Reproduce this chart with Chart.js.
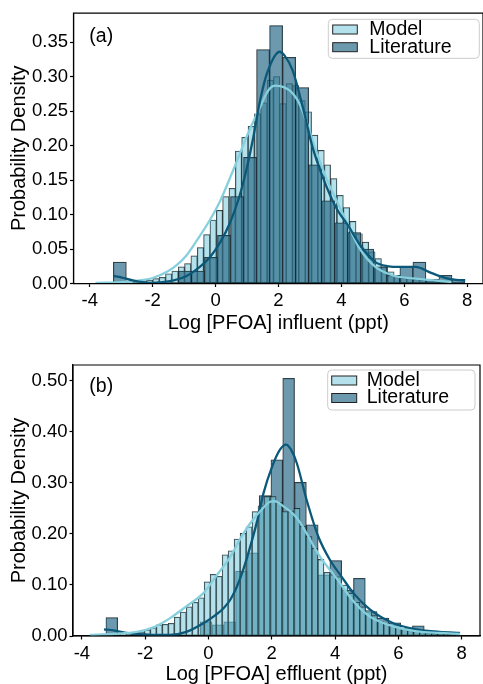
<!DOCTYPE html>
<html><head><meta charset="utf-8">
<script src="https://cdn.jsdelivr.net/npm/chart.js@4.4.1/dist/chart.umd.min.js"></script>
<style>
html,body{margin:0;padding:0;background:#fff;}
canvas{display:block;}
</style></head><body>
<canvas id="cA" width="483" height="342"></canvas>
<canvas id="cB" width="483" height="342"></canvas>
<script>
const FONT = "'Liberation Sans', Arial, Helvetica, sans-serif";

// ---------- shared tick values ----------
const xTickValues = [-4, -2, 0, 2, 4, 6, 8];
const yTickValuesA = [0, 0.05, 0.10, 0.15, 0.20, 0.25, 0.30, 0.35];
const yTickValuesB = [0, 0.10, 0.20, 0.30, 0.40, 0.50];
const seriesLabels = ['Model', 'Literature'];

// ---------- panel (a): influent ----------
const modelBinStartA = -3.81, modelBinWidthA = 0.2018;
const modelDensityA = [0.001,0.001,0.001,0.002,0.002,0.002,0.003,0.004,0.005,0.007,
  0.009,0.014,0.018,0.024,0.029,0.040,0.052,0.071,0.092,0.106,
  0.126,0.138,0.192,0.212,0.228,0.246,0.262,0.295,0.300,0.261,
  0.290,0.287,0.265,0.249,0.215,0.193,0.172,0.152,0.128,0.110,
  0.090,0.072,0.060,0.046,0.036,0.024,0.017,0.012,0.008,0.007,
  0.006,0.005,0.004,0.003,0.003,0.002];
const litBinStartA = -3.25, litBinWidthA = 0.414;
const litDensityA = [0.031,0,0,0,0,0.018,0.018,0.038,0.070,0.126,
  0.183,0.339,0.374,0.328,0.284,0.172,0.120,0.088,0.074,0.050,
  0.024,0.012,0.024,0.031,0.006,0.012,0.006];
const modelKdeXA = [-3.81,-3.0,-2.5,-2.0,-1.5,-1.2,-0.92,-0.6,-0.18,0.15,0.45,0.7,0.98,1.2,1.4,1.6,1.75,1.9,2.05,2.2,2.35,2.5,2.65,2.87,3.19,3.5,3.92,4.24,4.56,5.08,5.61,6.35,7.08,7.5];
const modelKdeYA = [0.001,0.002,0.004,0.008,0.018,0.028,0.041,0.062,0.092,0.120,0.152,0.180,0.212,0.235,0.254,0.274,0.284,0.287,0.286,0.284,0.280,0.273,0.262,0.237,0.193,0.155,0.113,0.082,0.052,0.024,0.012,0.007,0.004,0.002];
const litKdeXA = [-3.25,-3.0,-2.6,-2.07,-1.5,-0.92,-0.5,-0.18,0.15,0.45,0.75,0.98,1.2,1.4,1.6,1.75,1.9,2.03,2.2,2.45,2.77,3.08,3.4,3.82,4.24,4.56,5.08,5.5,5.82,6.35,6.87,7.4,7.93];
const litKdeYA = [0.011,0.009,0.004,0.001,0.003,0.011,0.024,0.038,0.060,0.087,0.125,0.165,0.212,0.262,0.300,0.318,0.331,0.336,0.330,0.309,0.256,0.198,0.155,0.111,0.082,0.058,0.031,0.025,0.024,0.024,0.015,0.007,0.004];

// ---------- panel (b): effluent ----------
const modelBinStartB = -3.73, modelBinWidthB = 0.1892;
const modelDensityB = [0.001,0.001,0.002,0.002,0.003,0.003,0.004,0.005,0.008,0.012,
  0.016,0.022,0.023,0.025,0.037,0.047,0.057,0.066,0.075,0.106,
  0.121,0.117,0.159,0.167,0.190,0.201,0.214,0.244,0.255,0.273,
  0.273,0.262,0.244,0.244,0.250,0.215,0.195,0.172,0.150,0.125,
  0.120,0.116,0.100,0.084,0.066,0.057,0.050,0.040,0.028,0.025,
  0.020,0.016,0.013,0.011,0.009,0.007,0.006,0.005,0.004,0.003,
  0.003,0.002];
const litBinStartB = -3.24, litBinWidthB = 0.3725;
const litDensityB = [0.036,0,0,0,0,0,0,0,0.028,0.022,
  0.028,0.127,0.163,0.275,0.345,0.505,0.301,0.218,0.120,0.148,
  0.090,0.113,0.048,0.035,0.026,0.015,0.020,0.008,0.007,0.007];
const modelKdeXB = [-3.74,-3.0,-2.26,-1.7,-1.21,-0.7,-0.16,0.25,0.69,1.0,1.32,1.63,1.95,2.1,2.37,2.68,2.9,3.1,3.53,4.05,4.58,5.1,5.84,6.58,7.3,7.95];
const modelKdeYB = [0.002,0.004,0.008,0.018,0.035,0.058,0.084,0.118,0.155,0.190,0.221,0.244,0.263,0.264,0.254,0.239,0.222,0.201,0.155,0.113,0.068,0.038,0.019,0.009,0.006,0.004];
const litKdeXB = [-3.3,-3.0,-2.6,-2.26,-1.7,-1.21,-0.7,-0.16,0.2,0.47,0.7,0.9,1.1,1.32,1.55,1.74,2.0,2.26,2.45,2.6,2.79,3.1,3.47,3.84,4.21,4.58,5.1,5.84,6.58,7.3,7.95];
const litKdeYB = [0.013,0.011,0.006,0.004,0.002,0.002,0.008,0.025,0.040,0.054,0.072,0.097,0.130,0.175,0.228,0.280,0.330,0.365,0.375,0.366,0.339,0.267,0.195,0.149,0.116,0.084,0.052,0.025,0.013,0.008,0.006];

// ---------- styles ----------
const modelFill = 'rgba(118,201,219,0.55)';
const litFill = 'rgba(45,109,138,0.7)';
const modelLine = '#86d0de';
const litLine = '#0b5878';
const edge = 'rgba(10,10,10,0.85)';

Chart.defaults.font.family = FONT;
Chart.defaults.color = '#000';

function binPoints(start, width, dens) { return dens.map((d, i) => ({x: start + (i + 0.5) * width, y: d})); }
function curve(xs, ys) { return xs.map((x, i) => ({x: x, y: ys[i]})); }

const deco = {
  id: 'deco',
  afterDatasetsDraw(chart, args, o) {
    const ctx = chart.ctx, a = chart.chartArea;
    ctx.save();
    ctx.strokeStyle = '#000'; ctx.lineWidth = 1.2;
    ctx.beginPath(); ctx.rect(a.left, a.top, a.right - a.left, a.bottom - a.top); ctx.stroke();
    ctx.fillStyle = '#000'; ctx.font = '19.5px ' + FONT;
    ctx.textAlign = 'left'; ctx.textBaseline = 'middle';
    ctx.fillText(o.label, o.labelX, o.labelY);
    // legend
    const L = o.legend;
    const r = 4;
    ctx.beginPath();
    ctx.moveTo(L.x + r, L.y);
    ctx.arcTo(L.x + L.w, L.y, L.x + L.w, L.y + L.h, r);
    ctx.arcTo(L.x + L.w, L.y + L.h, L.x, L.y + L.h, r);
    ctx.arcTo(L.x, L.y + L.h, L.x, L.y, r);
    ctx.arcTo(L.x, L.y, L.x + L.w, L.y, r);
    ctx.closePath();
    ctx.fillStyle = 'rgba(255,255,255,0.8)'; ctx.fill();
    ctx.strokeStyle = '#cccccc'; ctx.lineWidth = 1; ctx.stroke();
    const fills = [modelFill, litFill];
    for (let i = 0; i < 2; i++) {
      const py = L.rows[i];
      ctx.fillStyle = '#fff'; ctx.fillRect(L.px, py - L.ph / 2, L.pw, L.ph);
      ctx.fillStyle = fills[i]; ctx.fillRect(L.px, py - L.ph / 2, L.pw, L.ph);
      ctx.strokeStyle = '#222'; ctx.lineWidth = 1;
      ctx.strokeRect(L.px, py - L.ph / 2, L.pw, L.ph);
      ctx.fillStyle = '#000'; ctx.font = '19.5px ' + FONT;
      ctx.fillText(seriesLabels[i], L.tx, py);
    }
    ctx.restore();
  }
};

function barDs(label, data, axis, fill, order) {
  return {type: 'bar', label, data, xAxisID: axis, yAxisID: 'y', backgroundColor: fill,
    borderColor: edge, borderWidth: 0.6, borderSkipped: false, barPercentage: 1,
    categoryPercentage: 1, grouped: false, order};
}
function lineDs(label, data, color, order) {
  return {type: 'line', label, data, xAxisID: 'x', yAxisID: 'y', borderColor: color,
    borderWidth: 2.3, pointRadius: 0, fill: false, cubicInterpolationMode: 'monotone', order};
}

function makeChart(id, cfg) {
  const gridOpt = {drawOnChartArea: false, drawTicks: true, tickLength: 3.5, tickColor: '#000', tickWidth: 1.2, offset: false};
  return new Chart(document.getElementById(id), {
    type: 'bar',
    data: {datasets: cfg.datasets},
    options: {
      responsive: false, animation: false, devicePixelRatio: 1,
      layout: {padding: cfg.padding},
      plugins: {legend: {display: false}, tooltip: {enabled: false}, deco: cfg.deco},
      scales: {
        x: {type: 'linear', min: cfg.xMin, max: cfg.xMax, offset: false,
          afterBuildTicks: s => { s.ticks = xTickValues.map(v => ({value: v})); },
          afterFit: s => { s.height = cfg.xHeight; },
          grid: gridOpt, border: {display: true, color: '#000', width: 1.2},
          ticks: {font: {size: 18.5}, color: '#000', padding: 3.2, maxRotation: 0, autoSkip: false, callback: v => String(v)},
          title: {display: true, text: cfg.xTitle, color: '#000', font: {size: 20, lineHeight: 1}, padding: {top: 0, bottom: cfg.titlePad}}},
        xL: {type: 'linear', display: false, min: cfg.xMin, max: cfg.xMax, offset: false},
        y: {type: 'linear', min: 0, max: cfg.yMax,
          afterBuildTicks: s => { s.ticks = cfg.yTicks.map(v => ({value: v})); },
          afterFit: s => { s.width = cfg.yWidth; },
          grid: gridOpt, border: {display: true, color: '#000', width: 1.2},
          ticks: {font: {size: 18.5}, color: '#000', padding: 2, callback: v => Number(v).toFixed(2)},
          title: {display: true, text: 'Probability Density', color: '#000', font: {size: 20, lineHeight: 1}, padding: {top: 9, bottom: 0}}}
      }
    },
    plugins: [deco]
  });
}

// Panel (a): Literature drawn above Model
makeChart('cA', {
  datasets: [
    lineDs('Literature KDE', curve(litKdeXA, litKdeYA), litLine, 0),
    lineDs('Model KDE', curve(modelKdeXA, modelKdeYA), modelLine, 1),
    barDs(seriesLabels[1], binPoints(litBinStartA, litBinWidthA, litDensityA), 'xL', litFill, 2),
    barDs(seriesLabels[0], binPoints(modelBinStartA, modelBinWidthA, modelDensityA), 'x', modelFill, 3)
  ],
  padding: {top: 13, right: -2, bottom: 0, left: 0},
  xMin: -4.515, xMax: 8.5, yMax: 0.392, yTicks: yTickValuesA,
  xHeight: 58.5, yWidth: 73.5, titlePad: 8.7,
  xTitle: 'Log [PFOA] influent (ppt)',
  deco: {label: '(a)', labelX: 89.3, labelY: 36.7,
    legend: {x: 328.3, y: 19.3, w: 151, h: 39, px: 332.7, pw: 24.6, ph: 9, rows: [29.5, 47.2], tx: 369.3}}
});

// Panel (b): Model drawn above Literature
makeChart('cB', {
  datasets: [
    lineDs('Model KDE', curve(modelKdeXB, modelKdeYB), modelLine, 0),
    lineDs('Literature KDE', curve(litKdeXB, litKdeYB), litLine, 1),
    barDs(seriesLabels[0], binPoints(modelBinStartB, modelBinWidthB, modelDensityB), 'x', modelFill, 2),
    barDs(seriesLabels[1], binPoints(litBinStartB, litBinWidthB, litDensityB), 'xL', litFill, 3)
  ],
  padding: {top: 23, right: 3, bottom: 0, left: 0},
  xMin: -4.28, xMax: 8.58, yMax: 0.531, yTicks: yTickValuesB,
  xHeight: 48, yWidth: 73, titlePad: 0,
  xTitle: 'Log [PFOA] effluent (ppt)',
  deco: {label: '(b)', labelX: 89.3, labelY: 44.7,
    legend: {x: 327.7, y: 28, w: 147.3, h: 40, px: 331.7, pw: 25, ph: 9, rows: [38.5, 56], tx: 366.7}}
});
</script>
</body></html>
